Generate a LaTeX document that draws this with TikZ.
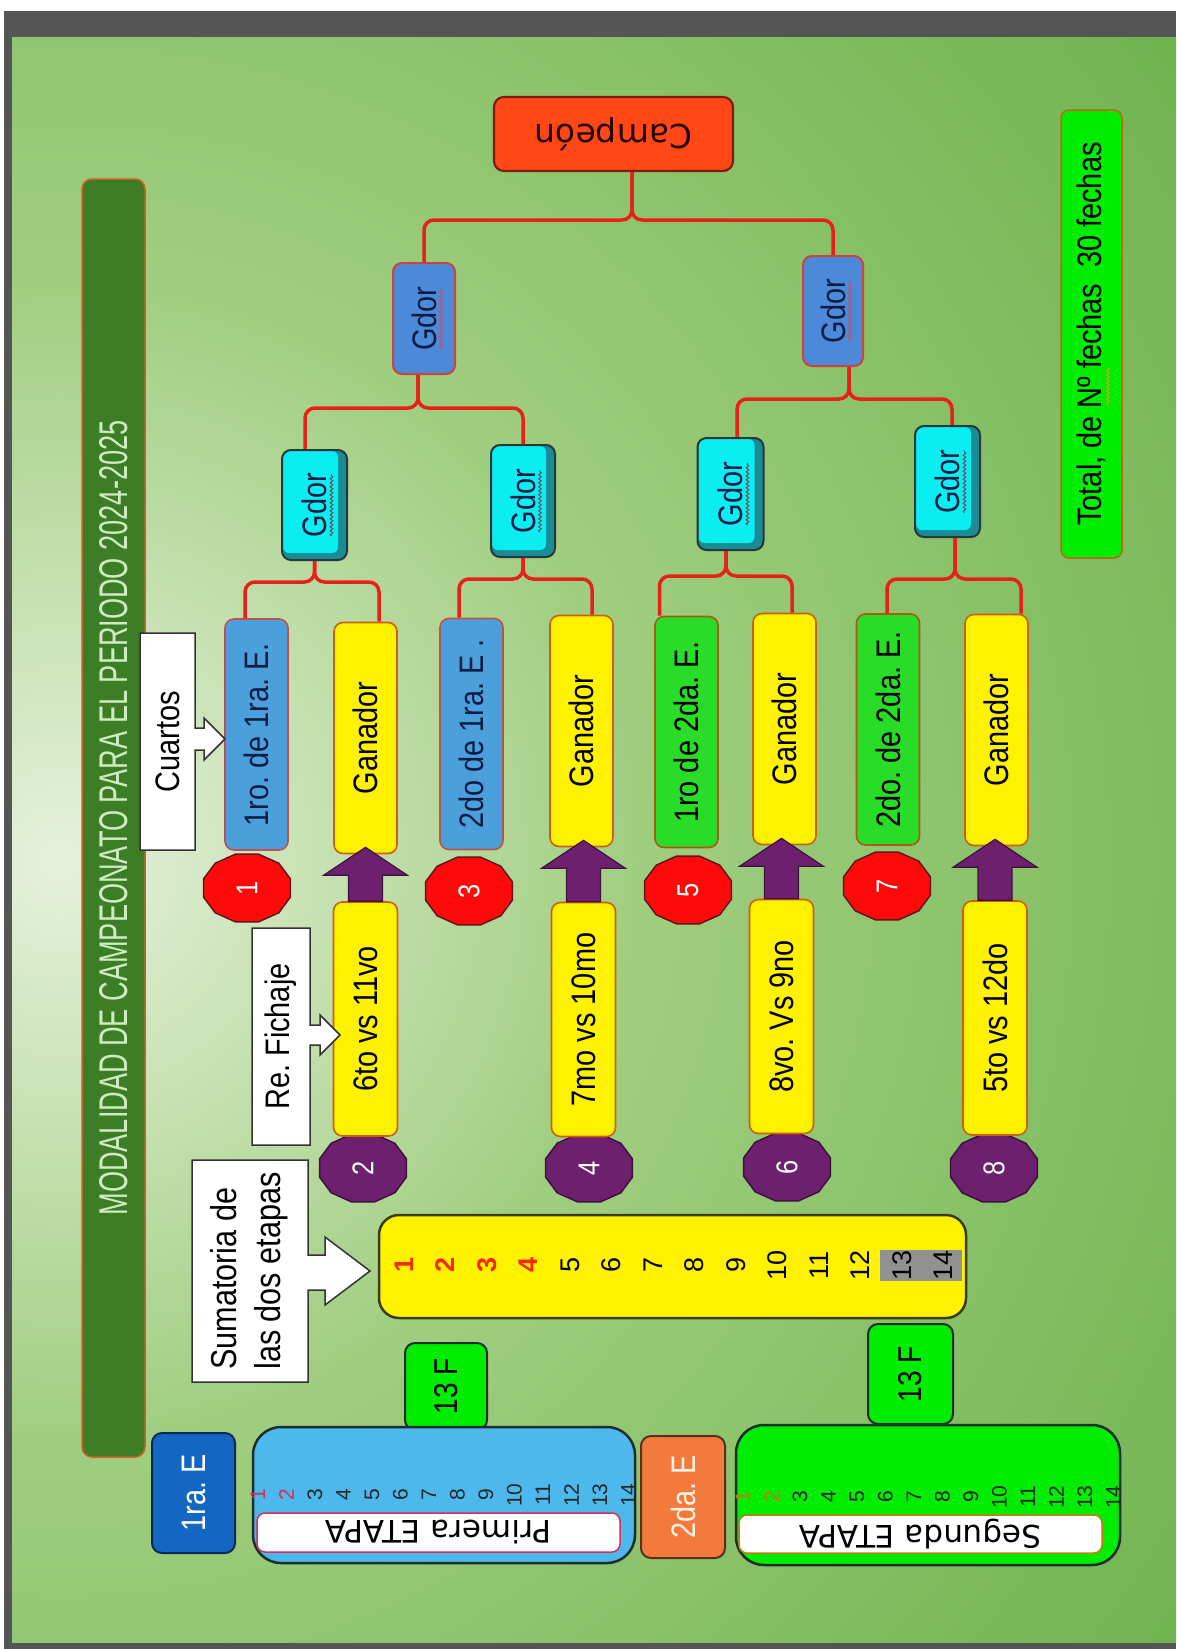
\documentclass[tikz,border=0pt]{standalone}
\usepackage{fontspec}
\setmainfont{Liberation Sans}
\newfontfamily\narrowf[FakeStretch=0.85]{Liberation Sans}
\newfontfamily\widef{DejaVu Sans}
\usetikzlibrary{calc,decorations.pathmorphing}
\frenchspacing

\definecolor{bgin}{RGB}{230,241,220}
\definecolor{bgmid}{RGB}{160,206,128}
\definecolor{bgout}{RGB}{90,168,58}
\pgfdeclareradialshading{bgsh}{\pgfpoint{0bp}{0bp}}{color(0bp)=(bgin); color(8bp)=(bgmid); color(24bp)=(bgout); color(50bp)=(bgout)}
\definecolor{framegrey}{HTML}{555555}
\definecolor{titlegreen}{RGB}{60,125,38}
\definecolor{titlebrd}{RGB}{205,95,45}
\definecolor{titletext}{RGB}{205,236,192}
\definecolor{campred}{RGB}{255,72,22}
\definecolor{campbrd}{RGB}{125,30,12}
\definecolor{boxblue}{RGB}{75,160,220}
\definecolor{bluebrd}{RGB}{190,80,80}
\definecolor{navytext}{RGB}{12,28,70}
\definecolor{yelbrd}{RGB}{205,95,20}
\definecolor{grn1}{RGB}{40,220,40}
\definecolor{grnbrd}{RGB}{170,90,20}
\definecolor{grn2}{RGB}{0,236,0}
\definecolor{gdblue}{RGB}{74,138,216}
\definecolor{gdbrd}{RGB}{205,65,65}
\definecolor{cyanfill}{RGB}{10,238,242}
\definecolor{cyanband}{RGB}{26,140,150}
\definecolor{cyanbrd}{RGB}{40,55,55}
\definecolor{brred}{RGB}{232,32,26}
\definecolor{octred}{RGB}{255,10,10}
\definecolor{octredbrd}{RGB}{100,20,20}
\definecolor{purp}{RGB}{108,32,110}
\definecolor{purpbrd}{RGB}{64,16,64}
\definecolor{sumbrd}{RGB}{60,60,20}
\definecolor{numred}{RGB}{250,40,0}
\definecolor{grey13}{RGB}{145,145,145}
\definecolor{primblue}{RGB}{76,184,236}
\definecolor{darkbrd}{RGB}{30,45,45}
\definecolor{darkblue}{RGB}{19,102,194}
\definecolor{darkbluebrd}{RGB}{10,42,90}
\definecolor{orgbox}{RGB}{242,122,60}
\definecolor{orgboxbrd}{RGB}{90,48,32}
\definecolor{primred}{RGB}{215,45,90}
\definecolor{segorg}{RGB}{200,120,20}
\definecolor{totbrd}{RGB}{195,100,20}
\definecolor{sqred}{RGB}{215,70,100}
\definecolor{sqdark}{RGB}{110,70,80}
\definecolor{sqgold}{RGB}{215,165,40}

\newcommand\rtx[1]{\rotatebox{90}{#1}}
\newcommand\udx[1]{\rotatebox{180}{#1}}
\newcommand\fsz[1]{\fontsize{#1pt}{#1pt}\selectfont}

\tikzset{
 bxl/.style={rounded corners=9pt, line width=1.6pt, inner sep=0pt, font=\narrowf\fsz{34}},
 bluebox/.style={bxl, fill=boxblue, draw=bluebrd, text=navytext, minimum width=63pt, minimum height=231pt},
 yelbox/.style={bxl, fill=yellow, draw=yelbrd, text=black, minimum width=63pt, minimum height=231pt},
 grnbox/.style={bxl, fill=grn1, draw=grnbrd, text=black, minimum width=63pt, minimum height=231pt},
 lowbox/.style={bxl, fill=yellow, draw=yelbrd, text=black, minimum width=64pt, minimum height=234pt},
 gdorblue/.style={bxl, fill=gdblue, draw=gdbrd, line width=2pt, text=navytext},
 gdorcyan/.style={bxl, fill=cyanband, draw=cyanbrd, line width=2pt, text=navytext,
   path picture={\fill[cyanfill, rounded corners=6pt] ([xshift=1pt,yshift=-1pt]path picture bounding box.north west) rectangle ([xshift=-9pt,yshift=7pt]path picture bounding box.south east);}},
 br/.style={draw=brred, line width=3.5pt, rounded corners=10pt},
 octxt/.style={inner sep=0pt, text=white, font=\narrowf\fsz{30}},
 parrow/.style={fill=purp, draw=purpbrd, line width=1.2pt, line join=miter},
 callout/.style={fill=white, draw=black!80, line width=1.5pt, line join=miter},
 calltxt/.style={inner sep=0pt, text=black, font=\narrowf\fsz{34}},
 sq/.style={decorate, decoration={snake, amplitude=1.3pt, segment length=4pt}, line width=0.9pt},
 f13/.style={fill=grn2, draw=darkbrd, line width=2pt, rounded corners=10pt, inner sep=0pt, font=\narrowf\fsz{33}},
 numtxt/.style={inner sep=0pt, font=\fsz{21}},
}

\newcommand\octag[6]{%
 \filldraw[fill=#4, draw=#5, line width=1.5pt] ($(#2,#3)+(15:45pt and 35pt)$) \foreach \a in {45,75,...,345} { -- ($(#2,#3)+(\a:45pt and 35pt)$) } -- cycle;
 \node[octxt] (#1) at (#2,#3) {\rtx{#6}};}

\newcommand\parr[2]{%
 \coordinate (tmpT) at ($(#1.north |- #2.south)+(0,7)$);
 \filldraw[parrow] ($(#1.north)+(-17,0)$) -- ($(tmpT)+(-17,-28)$) -- ($(tmpT)+(-42,-28)$) -- (tmpT) -- ($(tmpT)+(42,-28)$) -- ($(tmpT)+(17,-28)$) -- ($(#1.north)+(17,0)$) -- cycle;}

\begin{document}
\begin{tikzpicture}[x=1pt,y=1pt]
\useasboundingbox (0,0) rectangle (1176,-1649);
\fill[white] (0,0) rectangle (1176,-1649);
\fill[framegrey] (4,-11) rectangle (1176,-1649);
\begin{scope}
 \clip (12,-37) rectangle (1176,-1642);
 \fill[bgout] (12,-37) rectangle (1176,-1642);
 \shade[shading=bgsh] (60,-860) circle (1800pt);
\end{scope}

% title bar
\node[fill=titlegreen, draw=titlebrd, line width=1.5pt, rounded corners=10pt, minimum width=63pt, minimum height=1278pt, inner sep=0pt, text=titletext] (title) at (113.5,-818)
 {\rtx{\resizebox{795pt}{28pt}{\narrowf MODALIDAD DE CAMPEONATO PARA EL PERIODO 2024-2025}}};

% champion and total
\node[fill=campred, draw=campbrd, line width=2.2pt, rounded corners=10pt, minimum width=239pt, minimum height=74pt, inner sep=0pt, text=black!85!red, font=\widef\fsz{33}] (camp) at (613.5,-134) {\udx{Campeón}};
\node[fill=grn2, draw=totbrd, line width=1.5pt, rounded corners=8pt, minimum width=61pt, minimum height=448pt, inner sep=0pt, text=black, font=\narrowf\fsz{34}] (total) at (1091.5,-334) {\rtx{Total, de Nº fechas\ \ 30 fechas}};
\draw[sq, draw=sqgold] (1108,-368) -- (1108,-405);

% gdor nodes
\node[gdorblue, minimum width=62pt, minimum height=111pt] (g3l) at (424,-318.5) {\rtx{Gdor}};
\node[gdorblue, minimum width=60pt, minimum height=110pt] (g3r) at (833,-311) {\rtx{Gdor}};
\node[gdorcyan, minimum width=65pt, minimum height=110pt] (gA) at (314.5,-505) {\rtx{Gdor}};
\node[gdorcyan, minimum width=64pt, minimum height=112pt] (gB) at (523,-501) {\rtx{Gdor}};
\node[gdorcyan, minimum width=66pt, minimum height=112pt] (gC) at (730.5,-494) {\rtx{Gdor}};
\node[gdorcyan, minimum width=65pt, minimum height=111pt] (gD) at (947.5,-481.5) {\rtx{Gdor}};
\foreach \g in {g3l,g3r} {\draw[sq, draw=sqred] ($(\g.center)+(17,-31)$) -- ($(\g.center)+(17,31)$);}
\foreach \g in {gA,gB,gC,gD} {\draw[sq, draw=sqdark] ($(\g.center)+(17,-31)$) -- ($(\g.center)+(17,31)$);}

% bar levels
\coordinate (yT) at (0,-220);
\coordinate (yL) at (0,-408);
\coordinate (yR) at (0,-399);
\coordinate (yA) at (0,-582);
\coordinate (yB) at (0,-579);
\coordinate (yC) at (0,-576);
\coordinate (yD) at (0,-579);
\coordinate (campx) at ([xshift=18.5pt]camp.south);
\coordinate (g3lx) at ([xshift=-6pt]g3l.south);
\coordinate (g3rx) at ([xshift=16pt]g3r.south);
\coordinate (gCx) at ([xshift=-4.5pt]gC.south);
\coordinate (gDx) at ([xshift=7.5pt]gD.south);

% octagons (behind boxes)
\octag{o1}{247}{-888}{octred}{octredbrd}{1}
\octag{o3}{469}{-891}{octred}{octredbrd}{3}
\octag{o5}{688}{-890}{octred}{octredbrd}{5}
\octag{o7}{887}{-886}{octred}{octredbrd}{7}
\octag{o2}{363}{-1168}{purp}{purpbrd}{2}
\octag{o4}{589}{-1168}{purp}{purpbrd}{4}
\octag{o6}{787}{-1167}{purp}{purpbrd}{6}
\octag{o8}{994}{-1168}{purp}{purpbrd}{8}

% level-1 boxes
\node[bluebox] (c1) at (256.5,-734.5) {\rtx{1ro. de 1ra. E.}};
\node[yelbox]  (c2) at (365.5,-738) {\rtx{Ganador}};
\node[bluebox] (c3) at (471.5,-734) {\rtx{2do de 1ra. E .}};
\node[yelbox]  (c4) at (581.5,-731) {\rtx{Ganador}};
\node[grnbox]  (c5) at (686.5,-732) {\rtx{1ro de 2da. E.}};
\node[yelbox]  (c6) at (784.5,-729) {\rtx{Ganador}};
\node[grnbox]  (c7) at (888,-729.5) {\rtx{2do. de 2da. E.}};
\node[yelbox]  (c8) at (996.5,-730) {\rtx{Ganador}};

% brackets
\draw[br] (g3l.north) |- (campx |- yT) -- (campx);
\draw[br] (g3r.north) |- (campx |- yT) -- (campx);
\draw[br] ([xshift=-9.5pt]gA.north) |- (g3lx |- yL) -- (g3lx);
\draw[br] (gB.north) |- (g3lx |- yL) -- (g3lx);
\draw[br] ([xshift=6.5pt]gC.north) |- (g3rx |- yR) -- (g3rx);
\draw[br] ([xshift=4.5pt]gD.north) |- (g3rx |- yR) -- (g3rx);
\draw[br] ([xshift=-11.5pt]c1.north) |- (gA.south |- yA) -- (gA.south);
\draw[br] ([xshift=13.5pt]c2.north) |- (gA.south |- yA) -- (gA.south);
\draw[br] ([xshift=-12.5pt]c3.north) |- (gB.south |- yB) -- (gB.south);
\draw[br] ([xshift=10.5pt]c4.north) |- (gB.south |- yB) -- (gB.south);
\draw[br] ([xshift=-27pt]c5.north) |- (gCx |- yC) -- (gCx);
\draw[br] ([xshift=7.5pt]c6.north) |- (gCx |- yC) -- (gCx);
\draw[br] ([xshift=-1pt]c7.north) |- (gDx |- yD) -- (gDx);
\draw[br] ([xshift=24.5pt]c8.north) |- (gDx |- yD) -- (gDx);

% lower boxes and purple arrows
\node[lowbox] (l2) at (365.5,-1019) {\rtx{6to vs 11vo}};
\node[lowbox] (l4) at (583.5,-1019.5) {\rtx{7mo vs 10mo}};
\node[lowbox] (l6) at (781.5,-1016.5) {\rtx{8vo. Vs 9no}};
\node[lowbox] (l8) at (995,-1018) {\rtx{5to vs 12do}};
\parr{l2}{c2}
\parr{l4}{c4}
\parr{l6}{c6}
\parr{l8}{c8}

% callouts
\filldraw[callout] (140,-633) -- (195,-633) -- (195,-728) -- (204,-728) -- (204,-718) -- (225,-739) -- (204,-760) -- (204,-750) -- (195,-750) -- (195,-850) -- (140,-850) -- cycle;
\node[calltxt] (cuartos) at (167.5,-741.5) {\rtx{Cuartos}};
\filldraw[callout] (252,-928) -- (310,-928) -- (310,-1025) -- (320,-1025) -- (320,-1015) -- (340,-1035) -- (320,-1055) -- (320,-1045) -- (310,-1045) -- (310,-1145) -- (252,-1145) -- cycle;
\node[calltxt] (fichaje) at (281,-1036.5) {\rtx{Re. Fichaje}};
\filldraw[callout] (192,-1160) -- (308,-1160) -- (308,-1255) -- (325,-1255) -- (325,-1237) -- (370,-1271) -- (325,-1305) -- (325,-1290) -- (308,-1290) -- (308,-1382) -- (192,-1382) -- cycle;
\node[calltxt, font=\narrowf\fontsize{36pt}{44pt}\selectfont] (sumat) at (250,-1271) {\rtx{\begin{tabular}{@{}l@{}}Sumatoria de\\las dos etapas\end{tabular}}};

% summary box
\node[fill=yellow, draw=sumbrd, line width=2.5pt, rounded corners=20pt, minimum width=587pt, minimum height=103pt, inner sep=0pt] (sum) at (672.5,-1266.5) {};
\fill[grey13] (880,-1250) rectangle (962,-1281);
\foreach \i in {1,...,14} {
 \node[inner sep=0pt, font=\fsz{27}] (s\i) at ({404+(\i-1)*41.5},-1265) {\rtx{\ifnum\i<5 \color{numred}\bfseries\fi\i}};
}

% 13F boxes
\node[f13, minimum width=82pt, minimum height=87pt] (f13a) at (446,-1386.5) {\rtx{13 F}};
\node[f13, minimum width=85pt, minimum height=100pt] (f13b) at (910.5,-1374) {\rtx{13 F}};

% stage boxes
\node[fill=darkblue, draw=darkbluebrd, line width=2pt, rounded corners=10pt, minimum width=83pt, minimum height=120pt, inner sep=0pt, text=white, font=\narrowf\fsz{34}] (e1) at (193.5,-1493) {\rtx{1ra. E}};
\node[fill=orgbox, draw=orgboxbrd, line width=2pt, rounded corners=10pt, minimum width=84pt, minimum height=122pt, inner sep=0pt, text=white!90!orange, font=\narrowf\fsz{34}] (e2) at (683,-1497) {\rtx{2da. E}};

\node[fill=primblue, draw=darkbrd, line width=2.5pt, rounded corners=28pt, minimum width=382pt, minimum height=136pt, inner sep=0pt] (prim) at (444,-1495) {};
\node[fill=white, draw=primred, line width=1.5pt, rounded corners=8pt, minimum width=363pt, minimum height=39pt, inner sep=0pt, font=\widef\fsz{31}] (primlab) at (438.5,-1532.5) {\udx{Primera ETAPA}};
\foreach \i in {1,...,14} {
 \node[numtxt, text=black!85] (p\i) at ({258+(\i-1)*28.5},-1495) {\rtx{\ifnum\i<3 \color{primred}\fi\i}};
}

\node[fill=grn2, draw=darkbrd, line width=2.5pt, rounded corners=28pt, minimum width=384pt, minimum height=140pt, inner sep=0pt] (seg) at (928,-1495) {};
\node[fill=white, draw=segorg, line width=1.5pt, rounded corners=8pt, minimum width=363pt, minimum height=38pt, inner sep=0pt, font=\widef\fsz{31}] (seglab) at (920.5,-1534) {\udx{Segunda ETAPA}};
\foreach \i in {1,...,14} {
 \node[numtxt, text=black!85] (q\i) at ({743+(\i-1)*28.5},-1497) {\rtx{\ifnum\i<3 \color{segorg}\fi\i}};
}
\end{tikzpicture}
\end{document}
